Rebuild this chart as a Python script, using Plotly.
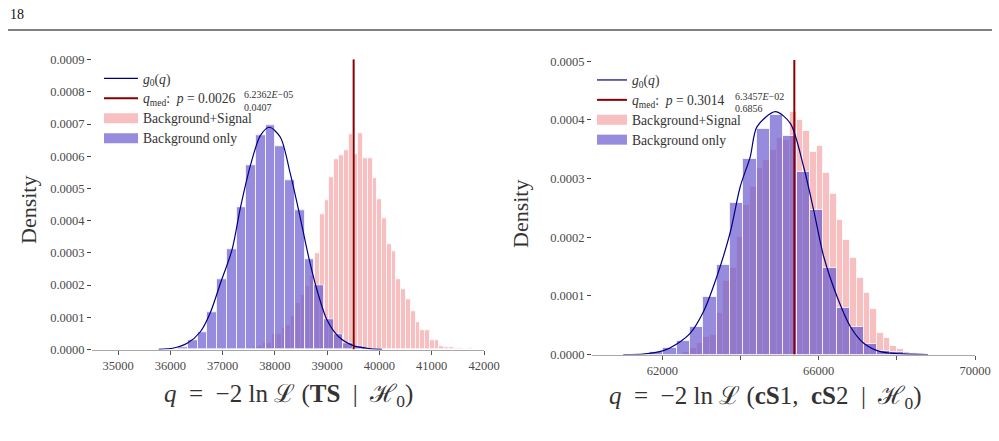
import plotly.graph_objects as go

# ---------------- Left panel (TS) ----------------
L_BLUE_START = 36150.0      # left edge of first "Background only" bin
L_BLUE_WIDTH = 185.9
l_blue_density = [0.0000077, 0.0000294, 0.0000542, 0.000116, 0.000218, 0.000311, 0.000440,
                  0.000571, 0.000664, 0.000695, 0.000630, 0.000525, 0.000432, 0.000279,
                  0.000198, 0.0000944, 0.000048, 0.0000201, 0.0000087]

L_PINK_START = 37579.5      # left edge of first "Background+Signal" bin
L_PINK_WIDTH = 91.5
l_pink_density = [0.000006, 0.0000093, 0.0000192, 0.0000192, 0.000048, 0.000048, 0.0000656,
                  0.0000759, 0.000102, 0.000145, 0.000169, 0.000195, 0.000228,
                  0.000298, 0.000419, 0.000463, 0.000535, 0.000592, 0.000604, 0.000618,
                  0.000669, 0.000607, 0.000672, 0.000595, 0.000594, 0.000533, 0.000466,
                  0.000406, 0.000326, 0.000306, 0.000217, 0.000187, 0.000157, 0.000119,
                  0.0000830, 0.0000604, 0.0000604, 0.0000294, 0.0000294, 0.0000108,
                  0.0000056, 0.0000056, 0.000003, 0.0000037, 0.000002, 0.0000025,
                  0.000001, 0.0000015]

l_curve_q = [35776, 36063, 36320, 36574, 36765, 36956, 37180, 37339, 37530, 37721, 37893,
             38104, 38295, 38454, 38645, 38806, 38997, 39219, 39500, 39800, 40050]
l_curve_g = [0.0000006, 0.0000046, 0.0000192, 0.0000551, 0.000115, 0.000205, 0.000310,
             0.000440, 0.000571, 0.000664, 0.000690, 0.000659, 0.000545, 0.000432,
             0.000287, 0.000184, 0.0000913, 0.0000396, 0.000012, 0.000003, 0.0000005]
L_QMED = 39506
L_PVAL = "0.0026"
L_SUP = "6.2362<i>E</i>−05"
L_SUB = "0.0407"
l_xticks = [35000, 36000, 37000, 38000, 39000, 40000, 41000, 42000]
l_yticks = [0, 0.0001, 0.0002, 0.0003, 0.0004, 0.0005, 0.0006, 0.0007, 0.0008, 0.0009]
L_XRANGE = [34500, 42000]
L_YRANGE = [0, 0.000901]

# ---------------- Right panel (cS1, cS2) ----------------
R_BLUE_START = 61684.6
R_BLUE_WIDTH = 341.4
r_blue_density = [0.0000048, 0.0000106, 0.0000235, 0.0000463, 0.0000985, 0.000152, 0.000258,
                  0.000333, 0.000384, 0.000408, 0.000372, 0.000311, 0.000247, 0.000147,
                  0.0000787, 0.0000474, 0.0000174, 0.0000065, 0.0000037, 0.0000017]

R_PINK_START = 62538.1
R_PINK_WIDTH = 170.7
r_pink_density = [0.0000043, 0.0000106, 0.0000191, 0.0000303, 0.0000330, 0.0000700, 0.000125,
                  0.000148, 0.000200, 0.000255, 0.000285, 0.000318, 0.000331, 0.000348,
                  0.000369, 0.000365, 0.000414, 0.000400, 0.000381, 0.000346, 0.000355,
                  0.000309, 0.000273, 0.000229, 0.000195, 0.000165, 0.000131, 0.000104,
                  0.0000770, 0.0000361, 0.0000281, 0.0000150, 0.0000089, 0.0000043,
                  0.000002, 0.000001]

r_curve_q = [61000, 61500, 62026, 62369, 62710, 63051, 63395, 63736, 63992, 64249, 64420,
             64890, 65274, 65615, 65872, 66128, 66472, 66813, 67154, 67582, 68179, 68800]
r_curve_g = [0.0, 0.0000005, 0.0000065, 0.000018, 0.000036, 0.0000729, 0.000133, 0.000208,
             0.000286, 0.000337, 0.000388, 0.000414, 0.000394, 0.000320, 0.000246, 0.000167,
             0.0000985, 0.0000474, 0.0000191, 0.0000048, 0.0000009, 0.0]
R_QMED = 65377
R_PVAL = "0.3014"
R_SUP = "6.3457<i>E</i>−02"
R_SUB = "0.6856"
r_xticks = [62000, 66000, 70000]          # labelled ticks
r_xminor = [64000, 68000]                 # unlabelled ticks
r_yticks = [0, 0.0001, 0.0002, 0.0003, 0.0004, 0.0005]
R_XRANGE = [60200, 70000]
R_YRANGE = [0, 0.000502]

# ---------------- styles ----------------
BLUE = "rgba(106,90,205,0.7)"
PINK = "rgba(240,128,128,0.5)"
EDGE = "rgba(255,255,255,0.75)"
NAVY = "#000080"
DARKRED = "#8B0000"
SERIF = "Liberation Serif, DejaVu Serif, serif"
TICKC = "#4a4a4a"
EN = "\u2002"
LEG_SPAN = '<span style="font-size:13.6px">{}</span>'


def centers(start, width, n):
    return [start + width * (i + 0.5) for i in range(n)]


def qmed_label(p):
    return LEG_SPAN.format("<i>q</i><sub>med</sub>:" + EN + "<i>p</i> = " + p)


fig = go.Figure()


def add_panel(xa, ya, leg, blue_start, blue_w, blue_d, pink_start, pink_w, pink_d,
              cq, cg, qmed, ytop, pval):
    fig.add_trace(go.Scatter(x=[qmed, qmed], y=[0, ytop], mode="lines",
                             line=dict(color=DARKRED, width=2), name=qmed_label(pval),
                             xaxis=xa, yaxis=ya, legend=leg, legendrank=2))
    fig.add_trace(go.Bar(x=centers(pink_start, pink_w, len(pink_d)), y=pink_d, width=pink_w,
                         marker=dict(color=PINK, line=dict(color=EDGE, width=1)),
                         showlegend=False, xaxis=xa, yaxis=ya))
    fig.add_trace(go.Bar(x=centers(blue_start, blue_w, len(blue_d)), y=blue_d, width=blue_w,
                         marker=dict(color=BLUE, line=dict(color=EDGE, width=1)),
                         showlegend=False, xaxis=xa, yaxis=ya))
    fig.add_trace(go.Scatter(x=cq, y=cg, mode="lines",
                             line=dict(color=NAVY, width=1.2, shape="spline", smoothing=0.8),
                             name=LEG_SPAN.format("<i>g</i><sub>0</sub>(<i>q</i>)"),
                             xaxis=xa, yaxis=ya, legend=leg, legendrank=1))
    fig.add_trace(go.Scatter(x=[None], y=[None], mode="lines",
                             line=dict(color=PINK, width=11),
                             name=LEG_SPAN.format("Background+Signal"),
                             xaxis=xa, yaxis=ya, legend=leg, legendrank=3))
    fig.add_trace(go.Scatter(x=[None], y=[None], mode="lines",
                             line=dict(color=BLUE, width=11),
                             name=LEG_SPAN.format("Background only"),
                             xaxis=xa, yaxis=ya, legend=leg, legendrank=4))


add_panel("x", "y", "legend", L_BLUE_START, L_BLUE_WIDTH, l_blue_density,
          L_PINK_START, L_PINK_WIDTH, l_pink_density, l_curve_q, l_curve_g,
          L_QMED, L_YRANGE[1], L_PVAL)
add_panel("x2", "y2", "legend2", R_BLUE_START, R_BLUE_WIDTH, r_blue_density,
          R_PINK_START, R_PINK_WIDTH, r_pink_density, r_curve_q, r_curve_g,
          R_QMED, R_YRANGE[1], R_PVAL)

W, H = 999, 441


def px(v):
    return v / W


def py(v):
    return 1 - v / H


xaxis_common = dict(showline=True, linecolor="#a8a8a8", linewidth=1, ticks="outside",
                    ticklen=4, tickwidth=1, tickcolor="#555", showgrid=False, zeroline=False,
                    tickformat="d", automargin=False,
                    tickfont=dict(family=SERIF, size=12.5, color=TICKC))
yaxis_common = dict(showline=False, ticks="outside", ticklen=4, tickwidth=1, tickcolor="#444",
                    showgrid=False, zeroline=False, tickformat=".4f", automargin=False,
                    tickfont=dict(family=SERIF, size=12.5, color=TICKC))

legend_common = dict(bgcolor="rgba(0,0,0,0)", borderwidth=0, traceorder="normal",
                     font=dict(family=SERIF, size=13, color="#333"),
                     xanchor="left", yanchor="top", tracegroupgap=0)

fig.update_layout(
    width=W, height=H, autosize=False, margin=dict(l=0, r=0, t=0, b=0, pad=0, autoexpand=False),
    paper_bgcolor="white", plot_bgcolor="white", barmode="overlay", bargap=0,
    xaxis=dict(domain=[px(92), px(484)], range=L_XRANGE, tickvals=l_xticks,
               anchor="y", **xaxis_common),
    yaxis=dict(domain=[py(349.5), py(59.3)], range=L_YRANGE, tickvals=l_yticks,
               anchor="x", **yaxis_common),
    xaxis2=dict(domain=[px(592), px(975)], range=R_XRANGE, tickvals=r_xticks,
                minor=dict(tickmode="array", tickvals=r_xminor, ticks="outside", ticklen=4,
                           tickwidth=1, tickcolor="#555", showgrid=False),
                anchor="y2", **xaxis_common),
    yaxis2=dict(domain=[py(354.5), py(60)], range=R_YRANGE, tickvals=r_yticks,
                anchor="x2", **yaxis_common),
    legend=dict(x=px(99), y=py(63.5), itemwidth=34, **legend_common),
    legend2=dict(x=px(592), y=py(65), itemwidth=30, **legend_common),
    showlegend=True,
)

ann = []
ann.append(dict(text="18", x=px(8), y=py(14), xref="paper", yref="paper", xanchor="left",
                yanchor="middle", showarrow=False, font=dict(family=SERIF, size=14, color="#111")))
for sx, sy, txt in [(242, 94.5, L_SUP), (242, 107.5, L_SUB), (733, 96, R_SUP), (733, 109, R_SUB)]:
    ann.append(dict(text=txt, x=px(sx), y=py(sy), xref="paper", yref="paper", xanchor="left",
                    yanchor="middle", showarrow=False,
                    font=dict(family=SERIF, size=10, color="#333")))
for tx, ty in [(28, 210), (520, 214)]:
    ann.append(dict(text="Density", x=px(tx), y=py(ty), xref="paper", yref="paper",
                    textangle=-90, showarrow=False, xanchor="center", yanchor="middle",
                    font=dict(family=SERIF, size=22, color="#333")))
ann.append(dict(text="<i>q</i>" + EN + "=" + EN + "−2 ln ℒ (<b>TS</b>" + EN + "|" + EN
                + "ℋ<sub>0</sub>)",
                x=px(288), y=py(395), xref="paper", yref="paper", showarrow=False,
                xanchor="center", yanchor="middle",
                font=dict(family=SERIF, size=25, color="#333")))
ann.append(dict(text="<i>q</i>" + EN + "=" + EN + "−2 ln ℒ (<b>cS</b>1," + EN + "<b>cS</b>2"
                + EN + "|" + EN + "ℋ<sub>0</sub>)",
                x=px(765), y=py(397), xref="paper", yref="paper", showarrow=False,
                xanchor="center", yanchor="middle",
                font=dict(family=SERIF, size=25, color="#333")))
fig.update_layout(annotations=ann)

fig.add_shape(type="line", xref="paper", yref="paper", x0=px(8), x1=px(992),
              y0=py(30), y1=py(30), line=dict(color="black", width=1))

fig.write_html("out.html")
